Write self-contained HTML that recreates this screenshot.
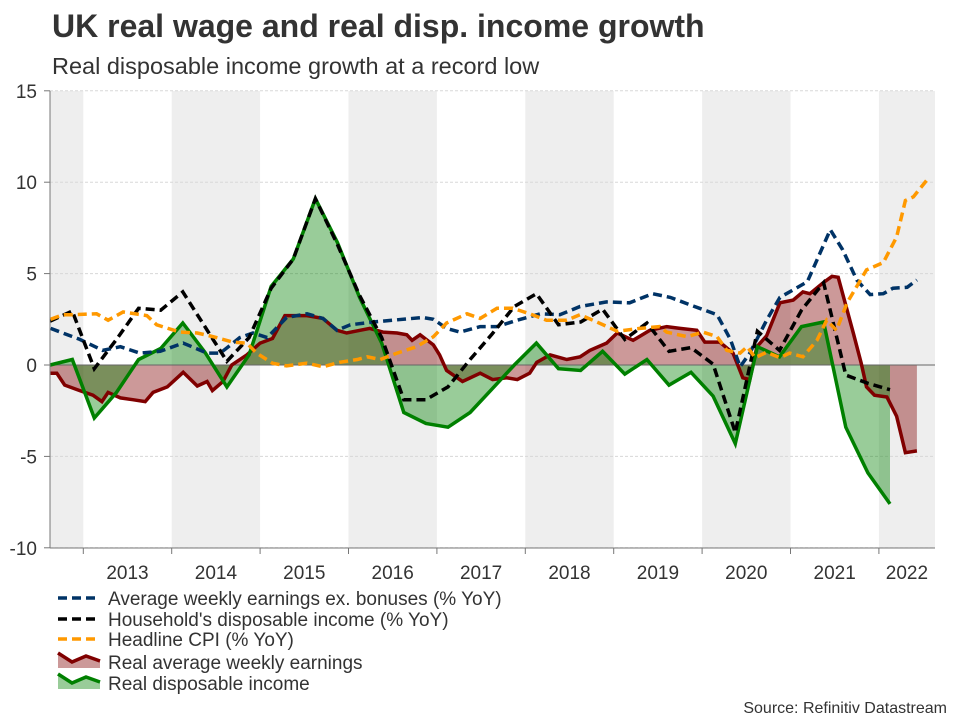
<!DOCTYPE html>
<html><head><meta charset="utf-8"><style>
html,body{margin:0;padding:0;background:#fff;width:960px;height:720px;overflow:hidden}
text{font-family:"Liberation Sans",Arial,sans-serif}
</style></head><body>
<svg id="chart" width="960" height="720" viewBox="0 0 960 720" xmlns="http://www.w3.org/2000/svg">
<text x="52" y="37" font-size="32" font-weight="bold" fill="#333">UK real wage and real disp. income growth</text>
<text x="52" y="74" font-size="23.5" fill="#333">Real disposable income growth at a record low</text>
<g id="plot"></g>
<g id="legend">
 <g><line x1="58" y1="598" x2="100" y2="598" stroke="#003366" stroke-width="3.5" stroke-dasharray="9,5"/><text x="108" y="605" font-size="19" fill="#333">Average weekly earnings ex. bonuses (% YoY)</text></g>
 <g><line x1="58" y1="619" x2="100" y2="619" stroke="#000" stroke-width="3.5" stroke-dasharray="9,5"/><text x="108" y="626" font-size="19" fill="#333">Household's disposable income (% YoY)</text></g>
 <g><line x1="58" y1="639" x2="100" y2="639" stroke="#ff9900" stroke-width="3.5" stroke-dasharray="9,5"/><text x="108" y="646" font-size="19" fill="#333">Headline CPI (% YoY)</text></g>
 <g><polygon points="58,653 72,662 86,656 100,661 100,668 58,668" fill="rgba(128,0,0,0.4)"/><polyline points="58,653 72,662 86,656 100,661" fill="none" stroke="#800000" stroke-width="3.5"/><text x="108" y="669" font-size="19" fill="#333">Real average weekly earnings</text></g>
 <g><polygon points="58,674 72,683 86,677 100,682 100,689 58,689" fill="rgba(0,128,0,0.4)"/><polyline points="58,674 72,683 86,677 100,682" fill="none" stroke="#008000" stroke-width="3.5"/><text x="108" y="690" font-size="19" fill="#333">Real disposable income</text></g>
</g>
<text x="947" y="713" font-size="16" fill="#333" text-anchor="end">Source: Refinitiv Datastream</text>
</svg>
<script>
const yTicks = [-10, -5, 0, 5, 10, 15];
const years = [2013, 2014, 2015, 2016, 2017, 2018, 2019, 2020, 2021, 2022];
const quarterStart = 2012.625;
const realDispIncome = [0,0.3,-2.9,-1.5,0.3,0.9,2.3,0.7,-1.2,0.55,4.3,5.8,9.1,6.7,3.7,1.2,-2.6,-3.2,-3.4,-2.6,-1.3,0,1.2,-0.2,-0.3,0.75,-0.5,0.3,-1.1,-0.4,-1.7,-4.3,1.0,0.45,2.1,2.35,-3.4,-5.9,-7.6];
const householdIncome = [2.4,2.95,-0.2,1.4,3.1,3.0,4.0,2.1,0.2,1.5,4.2,5.8,9.1,6.6,3.8,1.5,-1.9,-1.9,-1.2,0.3,1.7,3.2,3.9,2.2,2.35,3.05,1.4,2.3,0.75,0.95,0.05,-3.7,1.85,0.8,3.0,4.5,-0.55,-1.0,-1.35];
const aweDates = [2012.63,2012.96,2013.22,2013.42,2013.64,2013.87,2014.13,2014.40,2014.55,2014.77,2014.92,2015.08,2015.30,2015.53,2015.71,2015.87,2016.02,2016.28,2016.50,2016.84,2016.96,2017.11,2017.26,2017.49,2017.68,2017.91,2018.17,2018.39,2018.62,2018.92,2019.18,2019.44,2019.64,2019.86,2020.17,2020.32,2020.43,2020.54,2020.73,2020.88,2021.19,2021.30,2021.45,2021.59,2021.75,2021.90,2022.05,2022.16,2022.32,2022.43];
const aweValues = [2.0,1.4,0.8,1.0,0.65,0.75,1.2,0.65,0.65,1.5,1.75,1.5,2.6,2.8,2.55,1.9,2.2,2.35,2.45,2.6,2.5,2.0,1.8,2.1,2.1,2.45,2.8,2.75,3.2,3.45,3.4,3.9,3.7,3.3,2.75,1.4,-0.1,0.65,2.45,3.7,4.55,5.75,7.4,6.3,4.65,3.85,3.9,4.2,4.25,4.65];
const cpiDates = [2012.63,2012.77,2012.88,2013.15,2013.28,2013.45,2013.72,2013.83,2014.09,2014.29,2014.47,2014.69,2014.85,2014.96,2015.14,2015.30,2015.53,2015.71,2015.90,2016.10,2016.21,2016.36,2016.55,2016.77,2016.96,2017.11,2017.34,2017.49,2017.68,2017.86,2018.05,2018.24,2018.47,2018.62,2018.81,2019.04,2019.30,2019.52,2019.60,2019.83,2020.01,2020.17,2020.28,2020.43,2020.51,2020.60,2020.73,2020.88,2020.99,2021.14,2021.30,2021.41,2021.52,2021.64,2021.86,2022.05,2022.20,2022.30,2022.39,2022.54];
const cpiValues = [2.5,2.75,2.75,2.8,2.45,2.9,2.7,2.2,1.8,1.75,1.55,1.25,1.2,0.65,0.1,-0.05,0.1,-0.1,0.15,0.3,0.45,0.3,0.65,1.0,1.55,2.3,2.8,2.55,3.1,3.1,2.8,2.45,2.45,2.75,2.35,1.85,2.0,2.1,1.8,1.55,1.8,1.55,0.8,0.65,1.0,0.4,0.7,0.4,0.65,0.45,1.35,2.45,1.9,3.4,5.2,5.6,7.0,9.0,9.2,10.1];
const realAweDates = [2012.63,2012.70,2012.79,2012.96,2013.11,2013.21,2013.28,2013.42,2013.56,2013.70,2013.79,2013.95,2014.13,2014.29,2014.40,2014.46,2014.58,2014.68,2014.85,2015.00,2015.14,2015.28,2015.53,2015.71,2015.87,2015.98,2016.13,2016.24,2016.39,2016.55,2016.66,2016.72,2016.81,2016.96,2017.03,2017.11,2017.29,2017.49,2017.63,2017.79,2017.91,2018.05,2018.13,2018.28,2018.47,2018.62,2018.73,2018.92,2019.04,2019.22,2019.41,2019.60,2019.75,2019.94,2020.03,2020.20,2020.35,2020.46,2020.54,2020.62,2020.73,2020.88,2021.03,2021.14,2021.22,2021.37,2021.47,2021.54,2021.71,2021.80,2021.86,2021.95,2022.09,2022.20,2022.30,2022.43];
const realAweValues = [-0.45,-0.45,-1.1,-1.4,-1.65,-2.0,-1.5,-1.8,-1.9,-2.0,-1.5,-1.2,-0.4,-1.15,-0.9,-1.4,-0.9,0,0.55,1.2,1.45,2.7,2.7,2.55,1.9,1.75,1.9,2.0,1.8,1.75,1.65,1.35,1.65,1.1,0.55,-0.3,-0.9,-0.45,-0.8,-0.7,-0.8,-0.45,0.15,0.55,0.3,0.45,0.8,1.2,1.75,1.35,1.9,2.1,2.0,1.9,1.25,1.25,0.65,-0.7,-0.8,1.0,1.6,3.4,3.55,4.0,3.9,4.5,4.85,4.8,1.75,0.1,-1.2,-1.65,-1.75,-2.8,-4.8,-4.7];

const NS = 'http://www.w3.org/2000/svg';
const plot = document.getElementById('plot');
const X0 = 50, X1 = 935, Y0 = 91, Y1 = 548;
function xs(t){ return 83.3 + (t - 2013) * 88.4; }
function ys(v){ return 365 - v * 18.28; }
function mk(tag, attrs, parent){ const e = document.createElementNS(NS, tag); for (const k in attrs) e.setAttribute(k, attrs[k]); (parent||plot).appendChild(e); return e; }

for (let yr = 2012; yr <= 2022; yr += 2) {
  const a = Math.max(X0, xs(yr)), b = Math.min(X1, xs(yr + 1));
  const r = mk('rect', {x:a, y:Y0, width:b-a, height:Y1-Y0, fill:'#eeeeee'});
  
  
}
yTicks.forEach(v => {
  const y = ys(v);
  if (v !== 0) {
    const g = mk('line', {x1:X0, x2:X1, y1:y, y2:y, stroke:'#d8d8d8', 'stroke-width':1, 'stroke-dasharray':'3,2'});
    
    
  }
  const tk = mk('line', {x1:44, x2:X0, y1:y, y2:y, stroke:'#777', 'stroke-width':1});
  
  
  const t = mk('text', {x:37, y:y+7, 'font-size':19, fill:'#333', 'text-anchor':'end'});
  t.textContent = v;
  
  
});
function series(dates, vals){ return dates.map((d,i)=>[xs(d), ys(vals[i])]); }
const qDates = realDispIncome.map((_, i) => quarterStart + i * 0.25);
const ptsGreen = series(qDates, realDispIncome);
const ptsBlack = series(qDates, householdIncome);
const ptsRed = series(realAweDates, realAweValues);
const ptsBlue = series(aweDates, aweValues);
const ptsOrange = series(cpiDates, cpiValues);
function str(p){ return p.map(q=>q[0].toFixed(1)+','+q[1].toFixed(1)).join(' '); }
function area(p, fill, name){
  const s = str(p) + ' ' + p[p.length-1][0].toFixed(1) + ',' + ys(0) + ' ' + p[0][0].toFixed(1) + ',' + ys(0);
  const e = mk('polygon', {points:s, fill:fill});
  
  
}
area(ptsRed, 'rgba(128,0,0,0.4)', 'real-awe-area');
area(ptsGreen, 'rgba(0,128,0,0.4)', 'real-disp-income-area');
const zl = mk('line', {x1:X0, x2:X1, y1:ys(0), y2:ys(0), stroke:'#666', 'stroke-width':1});


function line(p, color, dash, name){
  const a = {points:str(p), fill:'none', stroke:color, 'stroke-width':3.5, 'stroke-linejoin':'miter'};
  if (dash) a['stroke-dasharray'] = '9,5';
  const e = mk('polyline', a);
  
  
}
line(ptsRed, '#800000', false, 'real-awe-line');
line(ptsGreen, '#008000', false, 'real-disp-income-line');
line(ptsBlue, '#003366', true, 'awe-line');
line(ptsBlack, '#000000', true, 'household-income-line');
line(ptsOrange, '#ff9900', true, 'cpi-line');
const ya = mk('line', {x1:X0, x2:X0, y1:Y0, y2:Y1, stroke:'#777', 'stroke-width':1});


const xa = mk('line', {x1:X0, x2:X1, y1:Y1, y2:Y1, stroke:'#777', 'stroke-width':1});


years.forEach(yr => {
  const tk = mk('line', {x1:xs(yr), x2:xs(yr), y1:Y1, y2:Y1+6, stroke:'#777', 'stroke-width':1});
  
  
  const cx = Math.min(xs(yr + 0.5), (xs(yr) + X1) / 2);
  const t = mk('text', {x:cx, y:579, 'font-size':19, fill:'#333', 'text-anchor':'middle'});
  t.textContent = yr;
  
  
});
</script>
</body></html>
